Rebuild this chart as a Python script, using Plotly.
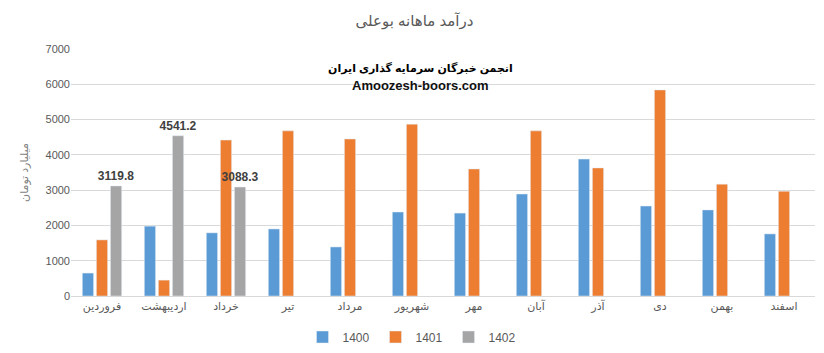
import plotly.graph_objects as go

months = ["فروردین", "اردیبهشت", "خرداد", "تیر", "مرداد", "شهریور",
          "مهر", "آبان", "آذر", "دی", "بهمن", "اسفند"]
s1400 = [650, 1980, 1790, 1900, 1390, 2380, 2350, 2890, 3880, 2550, 2440, 1760]
s1401 = [1590, 450, 4420, 4680, 4450, 4870, 3600, 4680, 3630, 5840, 3170, 2970]
s1402 = [3119.8, 4541.2, 3088.3, None, None, None, None, None, None, None, None, None]
y_ticks = [0, 1000, 2000, 3000, 4000, 5000, 6000, 7000]

FONT = "Liberation Sans, DejaVu Sans, sans-serif"

fig = go.Figure()
fig.add_bar(x=months, y=s1400, name="1400", marker_color="#5B9BD5")
fig.add_bar(x=months, y=s1401, name="1401", marker_color="#ED7D31")
fig.add_bar(x=months, y=s1402, name="1402", marker_color="#A5A5A5",
            text=[f"{v:.1f}" if v is not None else "" for v in s1402],
            textposition="outside", cliponaxis=False, constraintext="none",
            textfont=dict(family=FONT, size=12, color="#404040", weight="bold"))

fig.update_layout(
    width=824, height=353,
    margin=dict(l=71, r=9, t=49, b=57, autoexpand=False),
    paper_bgcolor="white", plot_bgcolor="white",
    barmode="group", bargap=0.32, bargroupgap=0.2,
    font=dict(family=FONT, size=11, color="#595959"),
    title=dict(text="درآمد ماهانه بوعلی", x=0.503, xanchor="center",
               y=0.94, yanchor="middle",
               font=dict(family=FONT, size=15, color="#595959")),
    showlegend=True,
    legend=dict(orientation="h", xref="container", x=0.5, xanchor="center",
                y=-0.166, yanchor="middle",
                font=dict(family=FONT, size=12, color="#595959"),
                itemwidth=30, traceorder="normal", entrywidth=28, tracegroupgap=0),
)
fig.update_yaxes(range=[0, 7000], tickvals=y_ticks, showgrid=True,
                 gridcolor="#D9D9D9", gridwidth=1, zeroline=False,
                 showline=False, ticks="", ticklen=0,
                 tickfont=dict(size=11, color="#595959"),
                 title=dict(text="میلیارد تومان", standoff=14,
                            font=dict(size=11, color="#7F7F7F")))
fig.update_xaxes(showline=True, linecolor="#D9D9D9", linewidth=1,
                 ticks="", tickfont=dict(size=11, color="#595959"),
                 tickangle=0)

fig.add_annotation(xref="paper", yref="paper", x=0.47, y=0.923, yanchor="middle",
                   text="<b>انجمن خبرگان سرمایه گذاری ایران</b>",
                   showarrow=False, font=dict(family=FONT, size=11, color="black"))
fig.add_annotation(xref="paper", yref="paper", x=0.47, y=0.854, yanchor="middle",
                   text="<b>Amoozesh-boors.com</b>",
                   showarrow=False, font=dict(family=FONT, size=13, color="#111111"))

fig.write_html("out.html")
